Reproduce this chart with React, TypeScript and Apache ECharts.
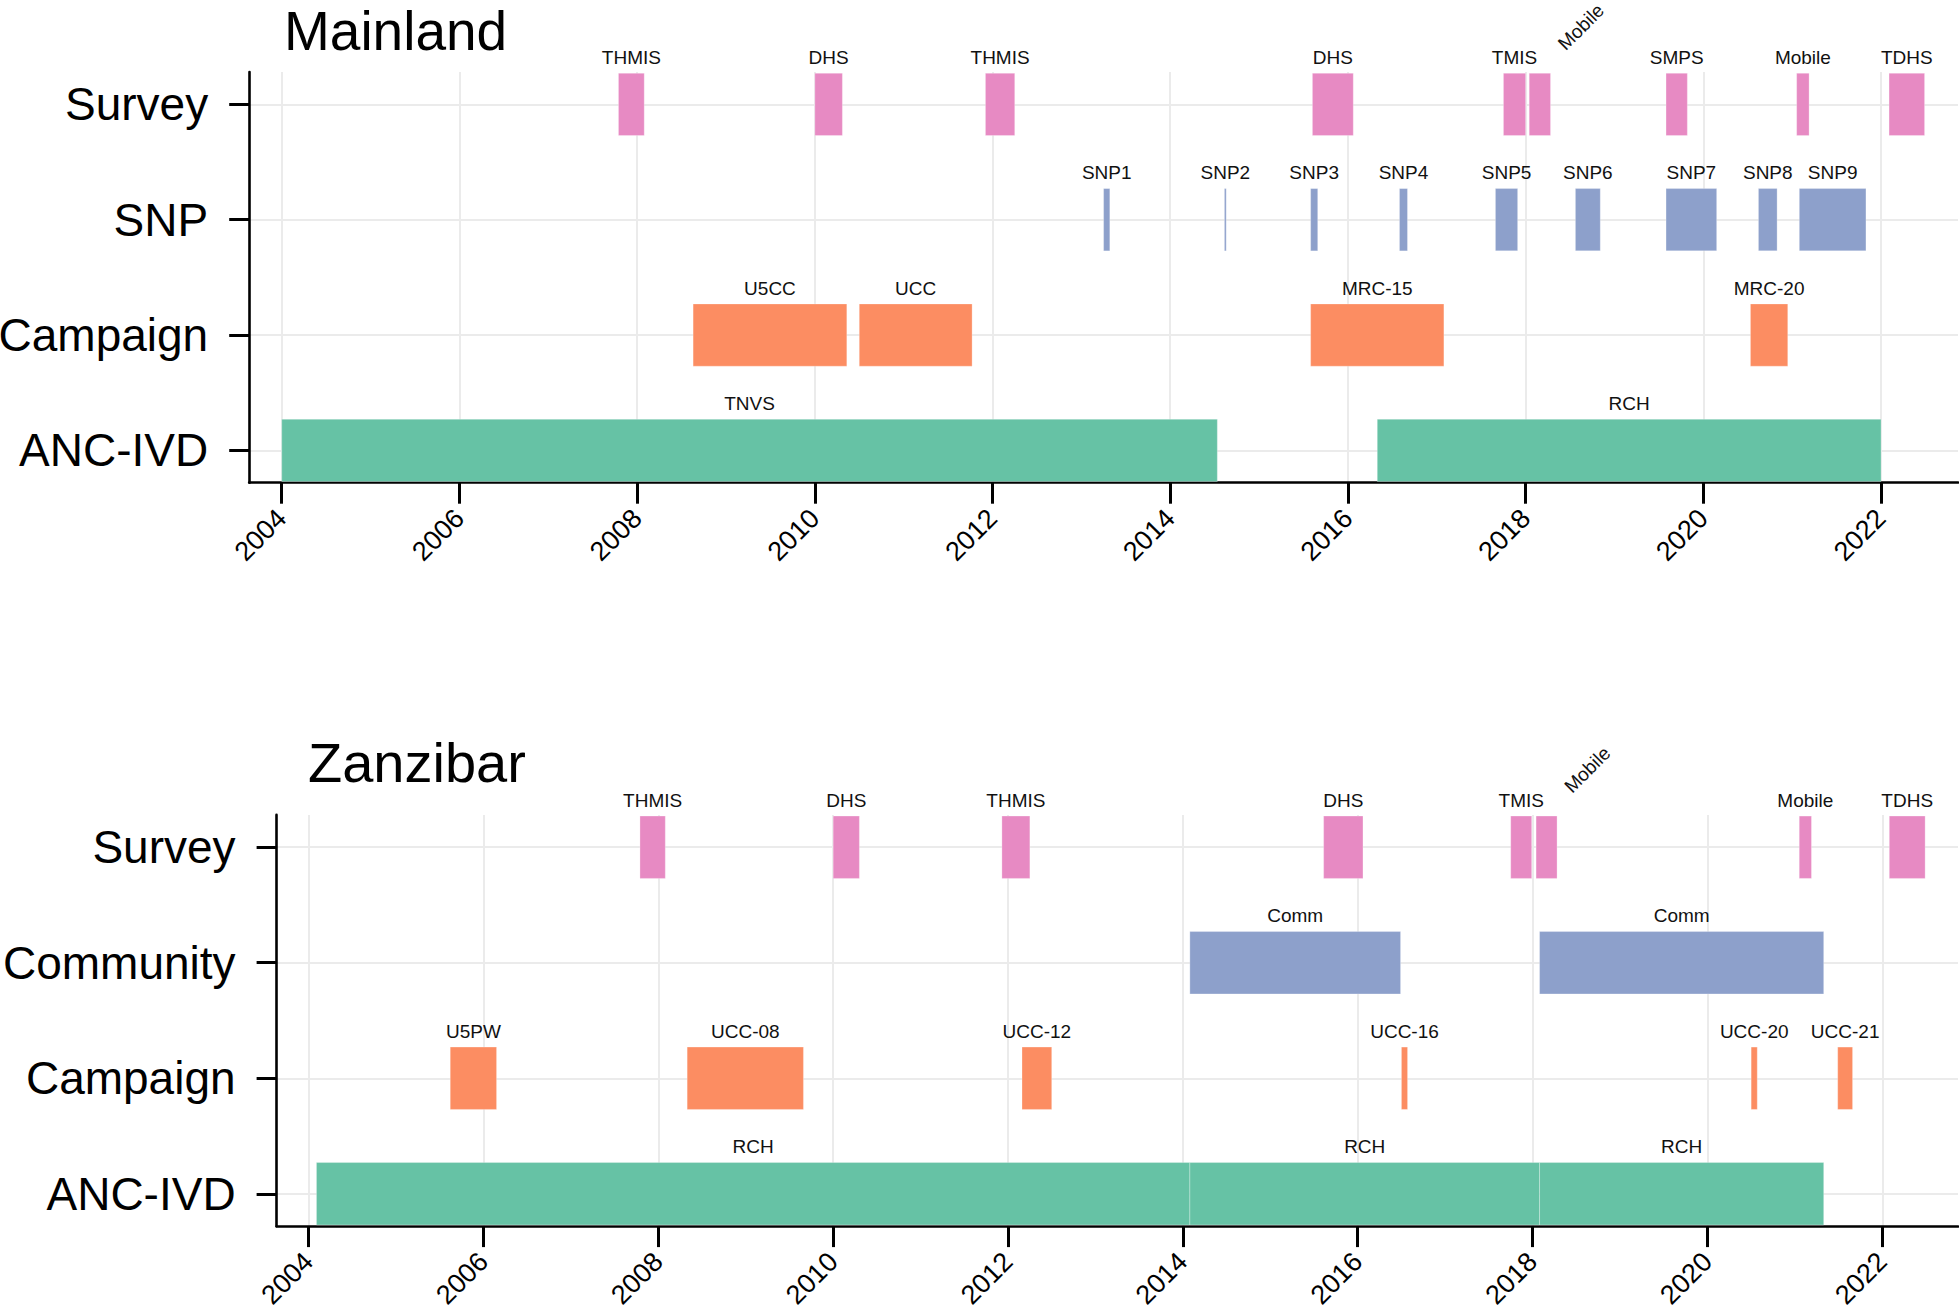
import React, { useEffect, useRef } from "react";
import * as echarts from "echarts";

// ---------- data ----------
const mainlandCategories = ["ANC-IVD", "Campaign", "SNP", "Survey"];
const zanzibarCategories = ["ANC-IVD", "Campaign", "Community", "Survey"];
const yearTicks = [2004, 2006, 2008, 2010, 2012, 2014, 2016, 2018, 2020, 2022];

// [category, start, end, label, rotatedLabel(1/0)]
type Row = [string, number, number, string, number];

const mainlandSurvey: Row[] = [
  ["Survey", 2007.79, 2008.08, "THMIS", 0],
  ["Survey", 2010.0, 2010.31, "DHS", 0],
  ["Survey", 2011.92, 2012.25, "THMIS", 0],
  ["Survey", 2015.6, 2016.06, "DHS", 0],
  ["Survey", 2017.75, 2018.0, "TMIS", 0],
  ["Survey", 2018.04, 2018.28, "Mobile", 1],
  ["Survey", 2019.58, 2019.82, "SMPS", 0],
  ["Survey", 2021.05, 2021.19, "Mobile", 0],
  ["Survey", 2022.09, 2022.49, "TDHS", 0],
];
const mainlandSNP: Row[] = [
  ["SNP", 2013.25, 2013.32, "SNP1", 0],
  ["SNP", 2014.61, 2014.63, "SNP2", 0],
  ["SNP", 2015.58, 2015.66, "SNP3", 0],
  ["SNP", 2016.58, 2016.67, "SNP4", 0],
  ["SNP", 2017.66, 2017.91, "SNP5", 0],
  ["SNP", 2018.56, 2018.84, "SNP6", 0],
  ["SNP", 2019.58, 2020.15, "SNP7", 0],
  ["SNP", 2020.62, 2020.83, "SNP8", 0],
  ["SNP", 2021.08, 2021.83, "SNP9", 0],
];
const mainlandCampaign: Row[] = [
  ["Campaign", 2008.63, 2010.36, "U5CC", 0],
  ["Campaign", 2010.5, 2011.77, "UCC", 0],
  ["Campaign", 2015.58, 2017.08, "MRC-15", 0],
  ["Campaign", 2020.53, 2020.95, "MRC-20", 0],
];
const mainlandANC: Row[] = [
  ["ANC-IVD", 2004.0, 2014.53, "TNVS", 0],
  ["ANC-IVD", 2016.33, 2022.0, "RCH", 0],
];

const zanzibarSurvey: Row[] = [
  ["Survey", 2007.79, 2008.08, "THMIS", 0],
  ["Survey", 2010.0, 2010.3, "DHS", 0],
  ["Survey", 2011.93, 2012.25, "THMIS", 0],
  ["Survey", 2015.61, 2016.06, "DHS", 0],
  ["Survey", 2017.75, 2017.99, "TMIS", 0],
  ["Survey", 2018.04, 2018.28, "Mobile", 1],
  ["Survey", 2021.05, 2021.19, "Mobile", 0],
  ["Survey", 2022.08, 2022.49, "TDHS", 0],
];
const zanzibarCommunity: Row[] = [
  ["Community", 2014.08, 2016.49, "Comm", 0],
  ["Community", 2018.08, 2021.33, "Comm", 0],
];
const zanzibarCampaign: Row[] = [
  ["Campaign", 2005.62, 2006.15, "U5PW", 0],
  ["Campaign", 2008.33, 2009.66, "UCC-08", 0],
  ["Campaign", 2012.16, 2012.5, "UCC-12", 0],
  ["Campaign", 2016.5, 2016.57, "UCC-16", 0],
  ["Campaign", 2020.5, 2020.57, "UCC-20", 0],
  ["Campaign", 2021.49, 2021.66, "UCC-21", 0],
];
const zanzibarANC: Row[] = [
  ["ANC-IVD", 2004.09, 2014.08, "RCH", 0],
  ["ANC-IVD", 2014.08, 2018.08, "RCH", 0],
  ["ANC-IVD", 2018.08, 2021.33, "RCH", 0],
];

const categoryColors: Record<string, string> = {
  Survey: "#E78AC3",
  SNP: "#8DA0CB",
  Community: "#8DA0CB",
  Campaign: "#FC8D62",
  "ANC-IVD": "#66C2A5",
};

const FONT = '"Liberation Sans", Arial, Helvetica, sans-serif';

function buildAxes(gridIndex: number, cats: string[]) {
  const xAxis = {
    type: "value",
    gridIndex,
    min: 2003.634,
    max: 2022.866,
    axisLine: { show: true, onZero: false, lineStyle: { color: "#000", width: 2.6 } },
    axisTick: { show: true, customValues: yearTicks, length: 21, lineStyle: { color: "#000", width: 3 } },
    axisLabel: {
      customValues: yearTicks,
      rotate: 45,
      fontSize: 27,
      margin: 31,
      color: "#000",
      fontFamily: FONT,
      formatter: (v: number) => String(v),
    },
    splitLine: { show: true, lineStyle: { color: "#ebebeb", width: 2 } },
  };
  const yAxis = {
    type: "value",
    gridIndex,
    min: -0.28,
    max: 3.28,
    axisLine: { show: true, onZero: false, lineStyle: { color: "#000", width: 2.6 } },
    axisTick: { show: true, customValues: [0, 1, 2, 3], length: 20, lineStyle: { color: "#000", width: 3 } },
    axisLabel: {
      customValues: [0, 1, 2, 3],
      fontSize: 46,
      margin: 41,
      color: "#000",
      fontFamily: FONT,
      formatter: (v: number) => cats[Math.round(v)] ?? "",
    },
    splitLine: { show: true, lineStyle: { color: "#ebebeb", width: 2 } },
  };
  return { xAxis, yAxis };
}

function buildSeries(gridIndex: number, cats: string[], rows: Row[]) {
  return {
    type: "custom",
    xAxisIndex: gridIndex,
    yAxisIndex: gridIndex,
    clip: false,
    encode: { x: [0, 1], y: 2 },
    data: rows.map((r) => [r[1], r[2], cats.indexOf(r[0])]),
    renderItem: (params: any, api: any) => {
      const r = rows[params.dataIndex];
      const s = api.value(0);
      const e = api.value(1);
      const c = api.value(2);
      const a = api.coord([s, c + 0.27]);
      const b = api.coord([e, c - 0.27]);
      const rect = {
        type: "rect",
        shape: { x: a[0], y: a[1], width: b[0] - a[0], height: b[1] - a[1] },
        style: { fill: categoryColors[r[0]], stroke: "rgba(255,255,255,0.28)", lineWidth: 1 },
      };
      let text: any;
      if (r[4]) {
        const p = api.coord([e + 0.12, c + 0.5]);
        text = {
          type: "text",
          x: p[0],
          y: p[1],
          rotation: Math.PI / 4,
          style: {
            text: r[3],
            fill: "#111",
            fontSize: 19,
            fontFamily: FONT,
            align: "left",
            verticalAlign: "middle",
          },
        };
      } else {
        const p = api.coord([(s + e) / 2, c + 0.408]);
        text = {
          type: "text",
          x: p[0],
          y: p[1],
          style: {
            text: r[3],
            fill: "#111",
            fontSize: 19,
            fontFamily: FONT,
            align: "center",
            verticalAlign: "middle",
          },
        };
      }
      return { type: "group", children: [rect, text] };
    },
  };
}

export default function App() {
  const ref = useRef<HTMLDivElement>(null);

  useEffect(() => {
    document.body.style.margin = "0";
    if (!ref.current) return;
    const chart = echarts.init(ref.current, undefined, { renderer: "svg" });

    const top = buildAxes(0, mainlandCategories);
    const bottom = buildAxes(1, zanzibarCategories);
    const mainlandRows = [...mainlandSurvey, ...mainlandSNP, ...mainlandCampaign, ...mainlandANC];
    const zanzibarRows = [...zanzibarSurvey, ...zanzibarCommunity, ...zanzibarCampaign, ...zanzibarANC];

    chart.setOption({
      animation: false,
      backgroundColor: "#fff",
      textStyle: { fontFamily: FONT },
      grid: [
        { left: 249.2, top: 72.1, width: 1708.8, height: 410.6, containLabel: false, outerBoundsMode: "none" },
        { left: 276.6, top: 814.9, width: 1681.4, height: 411.2, containLabel: false, outerBoundsMode: "none" },
      ],
      xAxis: [top.xAxis, bottom.xAxis],
      yAxis: [top.yAxis, bottom.yAxis],
      graphic: [
        {
          type: "text",
          left: 284,
          top: 3,
          style: { text: "Mainland", fontSize: 55, fontFamily: FONT, fill: "#000" },
        },
        {
          type: "text",
          left: 308,
          top: 734,
          style: { text: "Zanzibar", fontSize: 56, fontFamily: FONT, fill: "#000" },
        },
      ],
      series: [buildSeries(0, mainlandCategories, mainlandRows), buildSeries(1, zanzibarCategories, zanzibarRows)],
    });

    return () => chart.dispose();
  }, []);

  return <div ref={ref} style={{ width: 1959, height: 1314 }} />;
}
